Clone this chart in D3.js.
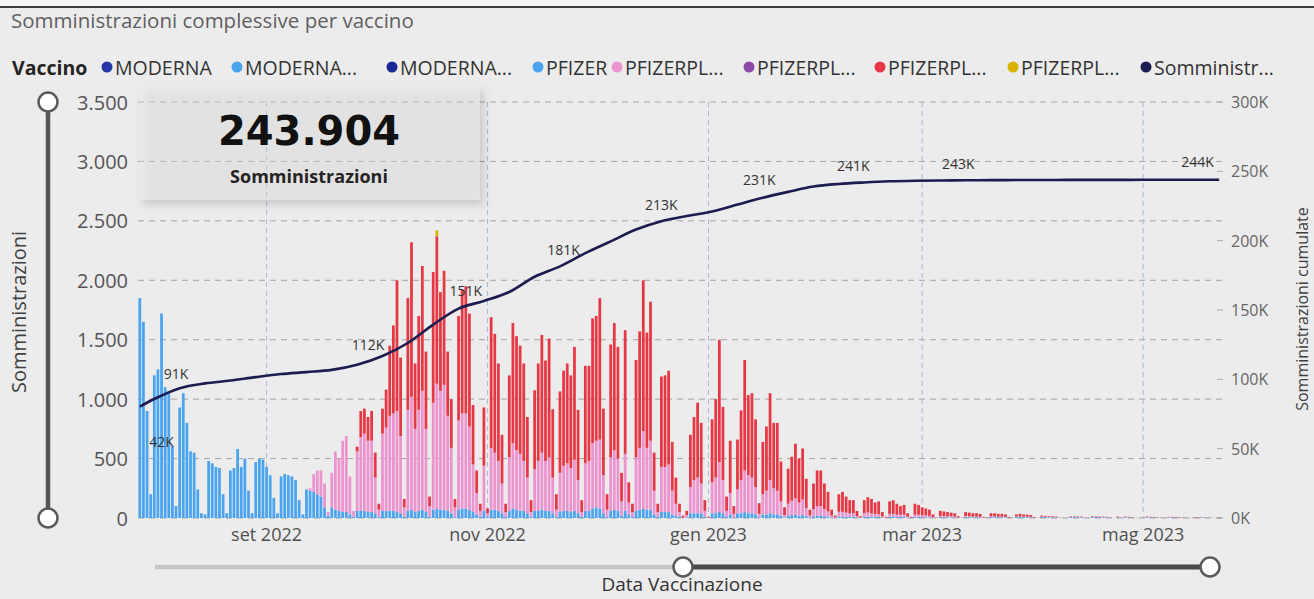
<!DOCTYPE html>
<html>
<head>
<meta charset="utf-8">
<script src="https://cdn.jsdelivr.net/npm/d3@7"></script>
<style>
  html, body { margin: 0; padding: 0; background: #ececec; }
  svg { display: block; font-family: "Open Sans", "Noto Sans", sans-serif; }
</style>
</head>
<body>
<svg id="chart" width="1314" height="599"></svg>
<script>
// ---- data (daily administrations) ----
const firstDay = '2022-07-28';
const lastDay = '2023-05-22';

// PFIZER (light blue), from 28 Jul 2022, one row per week (Mon..Sun)
const pfizerStart = '2022-07-28';
const pfizer = [
  1850, 1650, 900, 200,
  1200, 1250, 1720, 1100, 1050, 600, 100,
  930, 1050, 800, 560, 550, 240, 40,
  30, 480, 460, 430, 420, 200, 40,
  400, 420, 580, 430, 500, 230, 40,
  470, 500, 490, 430, 360, 170, 40,
  350, 370, 360, 350, 320, 150, 30,
  240, 230, 220, 200, 180, 90, 20,
  90, 70, 60, 50, 50, 30, 10
];

// MODERNA... (light blue, thin band at the bottom), from 26 Sep 2022
const modernaBivStart = '2022-09-26';
const modernaBiv = [
  60, 60, 60, 50, 50, 40, 10,
  60, 60, 60, 60, 50, 40, 10,
  60, 70, 50, 60, 70, 50, 10,
  70, 80, 70, 70, 60, 40, 10,
  70, 80, 80, 70, 50, 30, 10,
  60, 10, 70, 70, 60, 40, 10,
  60, 80, 70, 60, 60, 40, 10,
  60, 60, 70, 60, 60, 40, 10,
  50, 60, 60, 50, 60, 40, 10,
  60, 60, 80, 90, 80, 40, 10,
  60, 70, 60, 20, 60, 30, 10,
  60, 70, 80, 70, 70, 30, 10,
  50, 50, 50, 30, 20, 10, 0,
  5, 40, 40, 40, 40, 10, 0,
  40, 40, 50, 40, 10, 30, 5,
  40, 40, 50, 40, 40, 30, 5,
  30, 30, 40, 30, 30, 20, 5,
  20, 25, 25, 20, 25, 15, 5,
  15, 20, 20, 15, 10, 5, 2,
  12, 12, 10, 10, 10, 5, 1,
  10, 12, 10, 8, 8, 4, 1,
  10, 10, 8, 8, 8, 3, 1,
  8, 8, 8, 6, 6, 3, 1,
  8, 6, 6, 6, 5, 2, 1,
  8, 6, 6, 6, 5, 2, 1,
  8, 8, 6, 6, 6, 2, 1,
  8, 8, 8, 6, 6, 2, 1,
  8, 8, 6, 6, 5, 2, 0,
  1, 8, 8, 6, 6, 2, 0,
  8, 8, 6, 6, 5, 2, 0,
  6, 1, 6, 5, 4, 2, 0,
  1, 6, 5, 5, 4, 1, 0,
  5, 5, 4, 4, 3, 1, 0,
  4, 4, 4, 3, 3, 1, 0,
  3
];

// PFIZERPL... (pink), from 12 Sep 2022
const pfizerBA1Start = '2022-09-12';
const pfizerBA1 = [
  0, 20, 150, 200, 220, 200, 30,
  290, 490, 440, 600, 640, 320, 50,
  500, 620, 650, 600, 600, 300, 60,
  650, 700, 800, 820, 850, 650, 80,
  850, 950, 700, 850, 1000, 700, 90,
  900, 1050, 1000, 1050, 800, 550, 80,
  750, 800, 800, 700, 400, 180, 50,
  380, 30, 520, 480, 420, 250, 40,
  450, 550, 500, 480, 420, 300, 40,
  350, 420, 480, 420, 450, 300, 60,
  330, 380, 400, 370, 430, 280, 40,
  400, 420, 550, 560, 580, 320, 60,
  450, 500, 440, 120, 480, 100, 40,
  450, 520, 650, 520, 580, 200, 40,
  380, 380, 400, 200, 100, 40, 5,
  20, 220, 280, 300, 250, 50, 3,
  260, 300, 420, 280, 50, 180, 30,
  200, 280, 350, 320, 300, 230, 30,
  170, 200, 280, 220, 200, 120, 20,
  100, 120, 140, 110, 130, 70, 15,
  60, 80, 80, 60, 45, 15, 5,
  40, 40, 35, 30, 30, 10, 3,
  30, 35, 30, 25, 25, 10, 2,
  25, 25, 20, 20, 20, 8, 2,
  20, 20, 15, 15, 12, 5, 1,
  10, 10, 8, 8, 6, 3, 0,
  8, 8, 6, 6, 5, 2, 0,
  6, 6, 5, 5, 4, 2, 0,
  5, 5, 4, 4, 4, 1, 0,
  3, 3, 3, 3, 2, 1, 0,
  0, 3, 3, 2, 2, 1, 0,
  3, 3, 2, 2, 2, 1, 0,
  2, 0, 2, 2, 1, 0, 0,
  0, 2, 2, 2, 1, 0, 0,
  2, 2, 1, 1, 1, 0, 0,
  1, 1, 1, 1, 1, 0, 0,
  1
];

// PFIZERPL... (red), from 26 Sep 2022
const pfizerBA45Start = '2022-09-26';
const pfizerBA45 = [
  40, 220, 210, 200, 250, 210, 50,
  210, 320, 590, 740, 1100, 660, 70,
  940, 1300, 550, 790, 1050, 650, 80,
  1100, 1240, 830, 960, 540, 410, 70,
  880, 1040, 1070, 950, 500, 190, 60,
  490, 40, 1100, 1000, 820, 410, 70,
  690, 1010, 960, 910, 820, 510, 100,
  665, 820, 990, 845, 1000, 575, 130,
  685, 800, 840, 780, 950, 590, 100,
  820, 800, 1050, 1050, 1190, 560, 130,
  950, 1070, 940, 240, 1040, 170, 70,
  820, 980, 1270, 970, 1170, 320, 70,
  760, 770, 790, 410, 220, 70, 15,
  35, 440, 530, 630, 510, 90, 7,
  530, 660, 1030, 615, 120, 440, 65,
  420, 585, 930, 675, 710, 570, 90,
  440, 540, 730, 550, 570, 335, 65,
  295, 370, 460, 370, 430, 245, 50,
  215, 300, 300, 215, 165, 50, 13,
  148, 168, 135, 110, 110, 45, 11,
  110, 128, 120, 97, 107, 36, 7,
  105, 115, 92, 72, 82, 29, 7,
  92, 82, 67, 59, 52, 22, 3,
  42, 39, 36, 31, 29, 10, 2,
  34, 31, 28, 28, 25, 6, 2,
  26, 26, 24, 24, 20, 6, 1,
  17, 22, 18, 18, 15, 5, 1,
  9, 7, 6, 6, 5, 2, 0,
  1, 4, 4, 4, 4, 1, 1,
  4, 4, 4, 4, 3, 1, 1,
  4, 1, 4, 3, 3, 1, 1,
  1, 4, 3, 3, 3, 2, 1,
  3, 3, 3, 3, 2, 1, 1,
  3, 3, 2, 2, 1, 1, 1,
  2
];

// PFIZERPL... (yellow), single small tip
const pfizerYellowStart = '2022-10-18';
const pfizerYellow = [50];

// cumulative administrations (secondary axis)
const cumDates = [
  '2022-07-28', '2022-08-01', '2022-08-08', '2022-08-15', '2022-08-22', '2022-08-29',
  '2022-09-05', '2022-09-12', '2022-09-19', '2022-09-26', '2022-10-03', '2022-10-10',
  '2022-10-17', '2022-10-24', '2022-10-31', '2022-11-07', '2022-11-14', '2022-11-21',
  '2022-11-28', '2022-12-05', '2022-12-12', '2022-12-19', '2022-12-26', '2023-01-02',
  '2023-01-09', '2023-01-16', '2023-01-23', '2023-01-30', '2023-02-06', '2023-02-13',
  '2023-02-20', '2023-02-27', '2023-03-06', '2023-03-13', '2023-03-20', '2023-03-27',
  '2023-04-03', '2023-04-10', '2023-04-17', '2023-04-24', '2023-05-01', '2023-05-08',
  '2023-05-15', '2023-05-22'
];
const cumValues = [
  80300, 85800, 93600, 97100, 99100, 101600,
  103800, 105200, 106800, 110500, 116800, 126200,
  139500, 151000, 156500, 163000, 174000, 181500,
  191000, 199500, 208000, 214000, 217800, 221000,
  226000, 231000, 235200, 239000, 240900, 242000,
  242800, 243200, 243400, 243550, 243650, 243720,
  243780, 243820, 243850, 243870, 243880, 243890,
  243900, 243904
];

// data labels on the line
const labelDates = ['2022-08-03', '2022-08-07', '2022-09-29', '2022-10-26', '2022-11-22',
  '2022-12-19', '2023-01-15', '2023-02-10', '2023-03-11', '2023-05-16'];
const labelValues = [42000, 91000, 112000, 151000, 181000, 213000, 231000, 241000, 243000, 244000];

const totalCard = 243904;

const seriesNames = ['MODERNA', 'MODERNA...', 'MODERNA...', 'PFIZER', 'PFIZERPL...',
  'PFIZERPL...', 'PFIZERPL...', 'PFIZERPL...'];
const seriesColors = ['#2536a8', '#4aa4f0', '#1b2896', '#4aa4f0', '#ec94cf',
  '#8e4aa8', '#e63744', '#d9b300'];
const seriesStarts = [firstDay, modernaBivStart, firstDay, pfizerStart, pfizerBA1Start,
  firstDay, pfizerBA45Start, pfizerYellowStart];
const seriesValues = [[], modernaBiv, [], pfizer, pfizerBA1, [], pfizerBA45, pfizerYellow];
const lineName = 'Somministr...';
const lineColor = '#1c1c50';

// ---- setup ----
const parse = d3.utcParse('%Y-%m-%d');
const it = d3.timeFormatLocale({
  dateTime: '%A %e %B %Y, %X', date: '%d/%m/%Y', time: '%H:%M:%S', periods: ['AM', 'PM'],
  days: ['domenica', 'lunedì', 'martedì', 'mercoledì', 'giovedì', 'venerdì', 'sabato'],
  shortDays: ['dom', 'lun', 'mar', 'mer', 'gio', 'ven', 'sab'],
  months: ['gennaio', 'febbraio', 'marzo', 'aprile', 'maggio', 'giugno', 'luglio',
    'agosto', 'settembre', 'ottobre', 'novembre', 'dicembre'],
  shortMonths: ['gen', 'feb', 'mar', 'apr', 'mag', 'giu', 'lug', 'ago', 'set', 'ott', 'nov', 'dic']
});
const num = d3.formatLocale({ decimal: ',', thousands: '.', grouping: [3], currency: ['€', ''] });
const fmtLeft = num.format(',.0f');
const fmtMonth = it.utcFormat('%b %Y');

const svg = d3.select('#chart');
const [L, R, T, B] = [138, 1221, 102, 518];

const d0 = parse(firstDay), d1 = parse(lastDay);
const x = d3.scaleUtc()
  .domain([d3.utcHour.offset(d0, -12), d3.utcHour.offset(d1, 12)])
  .range([L, R]);
const y = d3.scaleLinear().domain([0, 3500]).range([B, T]);
const y2 = d3.scaleLinear().domain([0, 300000]).range([B, T]);

const days = d3.utcDay.range(d0, d3.utcDay.offset(d1, 1));
const startIdx = seriesStarts.map(s => d3.utcDay.count(d0, parse(s)));
const table = days.map((d, i) => {
  const row = { date: d };
  seriesValues.forEach((vals, k) => { row[k] = vals[i - startIdx[k]] || 0; });
  return row;
});
const stack = d3.stack().keys(d3.range(seriesNames.length))(table);

// background + top border
svg.append('rect').attr('width', 1314).attr('height', 599).attr('fill', '#ececec');
svg.append('rect').attr('width', 1314).attr('height', 6).attr('fill', '#f7f7f7');
svg.append('line').attr('x1', 0).attr('x2', 1314).attr('y1', 7).attr('y2', 7)
  .attr('stroke', '#3e3e3e').attr('stroke-width', 2);

// title
svg.append('text').attr('x', 11).attr('y', 28)
  .attr('font-size', 20.5).attr('fill', '#5f5f5f')
  .text('Somministrazioni complessive per vaccino');

// legend
const lg = svg.append('g').attr('font-size', 19.5).attr('fill', '#333');
lg.append('text').attr('x', 12).attr('y', 67).attr('dominant-baseline', 'central')
  .attr('font-weight', 700).attr('fill', '#252423').text('Vaccino');
const legendItems = seriesNames.map((n, i) => ({ name: n, color: seriesColors[i] }))
  .concat([{ name: lineName, color: lineColor }]);
const legendX = [107, 237, 392, 538, 617, 749, 880, 1013, 1146];
legendItems.forEach((it2, i) => {
  lg.append('circle').attr('cx', legendX[i]).attr('cy', 67).attr('r', 5.5).attr('fill', it2.color);
  lg.append('text').attr('x', legendX[i] + 8).attr('y', 67).attr('dominant-baseline', 'central')
    .text(it2.name);
});

// gridlines
const grid = svg.append('g');
grid.selectAll('.hg').data(y.ticks(7)).join('line')
  .attr('x1', L).attr('x2', R + 1).attr('y1', d => y(d)).attr('y2', d => y(d))
  .attr('stroke', '#a4a4a4').attr('stroke-dasharray', '6,5');
const xt = x.ticks(d3.utcMonth.every(2));
grid.selectAll('.vg').data(xt).join('line')
  .attr('x1', d => x(d)).attr('x2', d => x(d)).attr('y1', T).attr('y2', B)
  .attr('stroke', '#a3bad8').attr('stroke-dasharray', '5,4');

// left axis labels
svg.append('g').selectAll('text').data(y.ticks(7)).join('text')
  .attr('x', 128).attr('y', d => y(d)).attr('text-anchor', 'end')
  .attr('dominant-baseline', 'central').attr('font-size', 20).attr('fill', '#555')
  .text(d => fmtLeft(d));

// right axis labels + ticks
const ra = svg.append('g');
ra.selectAll('line').data(y2.ticks(6)).join('line')
  .attr('x1', R - 4).attr('x2', R + 2).attr('y1', d => y2(d)).attr('y2', d => y2(d))
  .attr('stroke', '#aaa');
ra.selectAll('text').data(y2.ticks(6)).join('text')
  .attr('x', 1231).attr('y', d => y2(d)).attr('dominant-baseline', 'central')
  .attr('font-size', 16).attr('fill', '#666')
  .text(d => (d / 1000) + 'K');

// x axis labels
svg.append('g').selectAll('text').data(xt).join('text')
  .attr('x', d => x(d)).attr('y', 541).attr('text-anchor', 'middle')
  .attr('font-size', 18).attr('fill', '#505050')
  .text(d => fmtMonth(d));

// axis titles
svg.append('text').attr('transform', 'translate(26,312) rotate(-90)')
  .attr('text-anchor', 'middle').attr('font-size', 20).attr('fill', '#404040')
  .text('Somministrazioni');
svg.append('text').attr('transform', 'translate(1308,309) rotate(-90)')
  .attr('text-anchor', 'middle').attr('font-size', 16).attr('fill', '#404040')
  .text('Somministrazioni cumulate');
svg.append('text').attr('x', 682).attr('y', 591).attr('text-anchor', 'middle')
  .attr('font-size', 19).attr('fill', '#333').text('Data Vaccinazione');

// bars
const step = x(d3.utcDay.offset(d0, 1)) - x(d0);
const bw = step * 0.76;
const bars = svg.append('g');
stack.forEach((layer, k) => {
  bars.append('g').attr('fill', seriesColors[k])
    .selectAll('rect').data(layer.filter(s => s[1] > s[0])).join('rect')
    .attr('x', s => x(s.data.date) - bw / 2).attr('width', bw)
    .attr('y', s => y(s[1])).attr('height', s => y(s[0]) - y(s[1]));
});

// cumulative line
const cum = cumDates.map((d, i) => ({ date: parse(d), value: cumValues[i] }));
svg.append('path').datum(cum)
  .attr('fill', 'none').attr('stroke', lineColor).attr('stroke-width', 2.6)
  .attr('stroke-linejoin', 'round')
  .attr('d', d3.line().x(d => x(d.date)).y(d => y2(d.value)).curve(d3.curveMonotoneX));

// data labels
svg.append('g').selectAll('text').data(labelDates).join('text')
  .attr('x', d => x(parse(d))).attr('y', (d, i) => y2(labelValues[i]) - 18)
  .attr('text-anchor', 'middle').attr('dominant-baseline', 'central')
  .attr('font-size', 14).attr('fill', '#333')
  .text((d, i) => Math.round(labelValues[i] / 1000) + 'K');

// card with shadow
const defs = svg.append('defs');
const f = defs.append('filter').attr('id', 'shadow').attr('x', '-10%').attr('y', '-20%')
  .attr('width', '130%').attr('height', '150%');
f.append('feDropShadow').attr('dx', 4).attr('dy', 5).attr('stdDeviation', 4)
  .attr('flood-color', '#000').attr('flood-opacity', 0.45);
svg.append('rect').attr('x', 139).attr('y', 85).attr('width', 341).attr('height', 115)
  .attr('fill', '#eeeeee').attr('fill-opacity', 0.3).attr('filter', 'url(#shadow)');
svg.append('text').attr('x', 309).attr('y', 145).attr('text-anchor', 'middle')
  .attr('font-family', '"DejaVu Sans", sans-serif').attr('font-weight', 700)
  .attr('font-size', 40).attr('fill', '#111').text(fmtLeft(totalCard));
svg.append('text').attr('x', 309).attr('y', 183).attr('text-anchor', 'middle')
  .attr('font-weight', 700).attr('font-size', 18).attr('fill', '#252423')
  .text('Somministrazioni');

// range sliders
const sl = svg.append('g');
sl.append('line').attr('x1', 48).attr('x2', 48).attr('y1', T).attr('y2', B)
  .attr('stroke', '#555').attr('stroke-width', 4.5);
sl.append('line').attr('x1', 155).attr('x2', 683).attr('y1', 567).attr('y2', 567)
  .attr('stroke', '#c6c6c6').attr('stroke-width', 4.5);
sl.append('line').attr('x1', 683).attr('x2', 1210).attr('y1', 567).attr('y2', 567)
  .attr('stroke', '#4a4a4a').attr('stroke-width', 5);
[[48, T], [48, B], [683, 567], [1210, 567]].forEach(([cx, cy]) => {
  sl.append('circle').attr('cx', cx).attr('cy', cy).attr('r', 9.5)
    .attr('fill', '#fff').attr('stroke', '#5a5a5a').attr('stroke-width', 2.5);
});
</script>
</body>
</html>
